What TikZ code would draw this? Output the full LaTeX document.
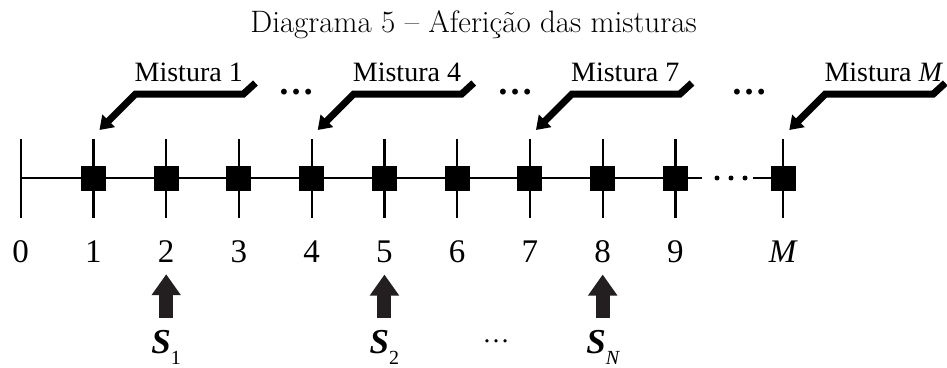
\documentclass[tikz,border=0pt]{standalone}
\usepackage{fontspec}
\newfontfamily\timesfont{Liberation Serif}
\usetikzlibrary{arrows.meta,calc}
\definecolor{arrowgray}{HTML}{231F20}
\newcommand\sub[1]{\raisebox{-11pt}{\mdseries\upshape\fontsize{20}{20}\selectfont #1}}

\begin{document}
\begin{tikzpicture}[x=1pt,y=-1pt,
   every node/.style={inner sep=0pt},
   numlabel/.style={anchor=base,font=\timesfont\fontsize{33}{33}\selectfont},
   mixlabel/.style={anchor=base west,font=\timesfont\fontsize{28}{28}\selectfont},
   slabel/.style={anchor=base,font=\timesfont\bfseries\itshape\fontsize{35}{35}\selectfont},
   dotlabel/.style={anchor=base,font=\timesfont\bfseries\fontsize{36}{36}\selectfont},
   tickline/.style={line width=2.3pt},
   cell/.style={fill=black,minimum size=25pt},
   mixarrow/.style={line width=7pt,-{Triangle[width=17pt,length=13pt]}},
   uparrow/.style={draw=arrowgray,line width=14pt,-{Triangle[width=28pt,length=21pt]},
      shorten <=12pt,shorten >=12pt}]

\useasboundingbox (0,0) rectangle (947,367);

\node[font=\fontsize{31}{31}\selectfont,anchor=base] (title) at (473.5,32)
   {Diagrama 5 -- Aferição das misturas};

% axis
\foreach \k in {0,...,9}
   \coordinate (t\k) at ({20.7+72.75*\k},178);
\coordinate (tM) at (783.3,178);
\draw[tickline] (t0) -- ($(t9)+(27,0)$);
\draw[tickline] ($(tM)+(-30,0)$) -- (tM);
\foreach \d in {717,731,745}
   \fill (\d,178) circle (2.5pt);
\foreach \k in {0,1,2,3,4,5,6,7,8,9,M}{
   \coordinate (top\k) at ($(t\k)+(0,-39)$);
   \draw[tickline] (top\k) -- ($(t\k)+(0,40)$);
}
\foreach \k in {1,2,3,4,5,6,7,8,9,M}
   \node[cell] (c\k) at (t\k) {};

% numbers
\foreach \k in {0,...,9}
   \node[numlabel] (n\k) at ($(t\k)+(0,84)$) {\k};
\node[numlabel] (nM) at ($(tM)+(0,84)$) {\textit{M}};

% mixtures
\foreach \k/\lab in {1/1,4/4,7/7,M/\textit{M}}{
   \node[mixlabel] (m\k) at ($(t\k)+(41,-96.5)$) {Mistura \lab};
   \draw[mixarrow] ($(t\k)+(162,-95)$) -- ++(-12,11) -- ++(-108,0)
      -- ($(top\k)+(6,-9)$);
}
\node[dotlabel] (d1) at (296,94.5) {\ldots};
\node[dotlabel] (d2) at (515,94.5) {\ldots};
\node[dotlabel] (d3) at (749,94.5) {\ldots};

% samples
\node[slabel] (s1) at ($(t2)+(0,175)$) {S\sub{1}};
\node[slabel] (s2) at ($(t5)+(0,175)$) {S\sub{2}};
\node[slabel] (sN) at ($(t8)+(0,175)$) {S\sub{\itshape N}};
\node[anchor=base,font=\timesfont\fontsize{27}{27}\selectfont] (sdots) at (496,342) {\ldots};
\draw[uparrow] (s1.north) -- (n2.south);
\draw[uparrow] (s2.north) -- (n5.south);
\draw[uparrow] (sN.north) -- (n8.south);

\end{tikzpicture}
\end{document}
